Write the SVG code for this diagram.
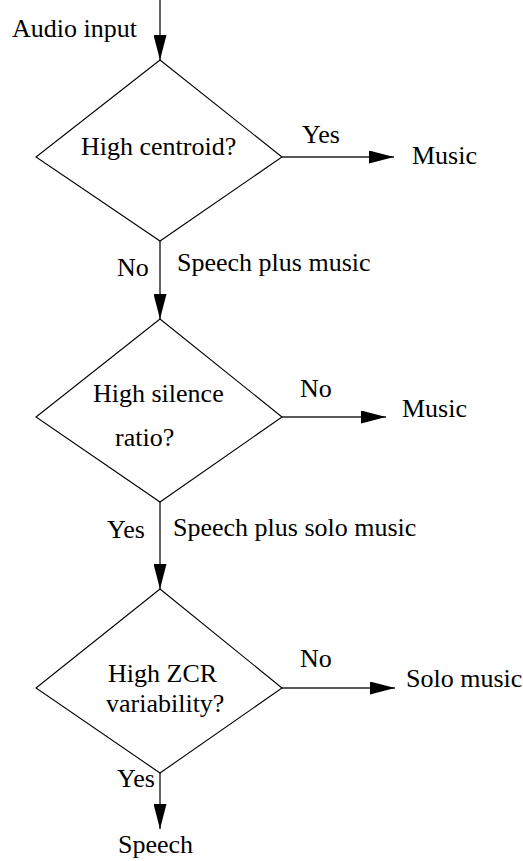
<svg xmlns="http://www.w3.org/2000/svg" width="523" height="861" viewBox="0 0 523 861">
<style>
text{font-family:"Liberation Serif","Times New Roman",serif;font-size:26px;fill:#000}
.d{fill:#fff;stroke:#000;stroke-width:1.1}
.c{stroke:#222;stroke-width:1.4;fill:none}
</style>
<defs>
<marker id="ah" markerUnits="userSpaceOnUse" markerWidth="25" markerHeight="13" refX="25" refY="6.5" orient="auto">
<path d="M0,0 L25,6.5 L0,13 Z" fill="#000"/>
</marker>
</defs>
<rect width="523" height="861" fill="#fff"/>
<g id="connectors">
<line class="c" x1="160" y1="0" x2="160" y2="60" marker-end="url(#ah)"/>
<line class="c" x1="282" y1="157" x2="394" y2="157" marker-end="url(#ah)"/>
<line class="c" x1="160" y1="241" x2="160" y2="319" marker-end="url(#ah)"/>
<line class="c" x1="282" y1="417" x2="386" y2="417" marker-end="url(#ah)"/>
<line class="c" x1="160" y1="502" x2="160" y2="589" marker-end="url(#ah)"/>
<line class="c" x1="282" y1="688" x2="395" y2="688" marker-end="url(#ah)"/>
<line class="c" x1="160" y1="773" x2="160" y2="829" marker-end="url(#ah)"/>
<text x="12" y="37">Audio input</text>
<text x="302" y="143">Yes</text>
<text x="117" y="276">No</text>
<text x="177" y="271">Speech plus music</text>
<text x="300" y="397">No</text>
<text x="107" y="538">Yes</text>
<text x="173" y="536">Speech plus solo music</text>
<text x="300" y="667">No</text>
<text x="117" y="787">Yes</text>
</g>
<g id="d1">
<polygon class="d" points="160,60 282,157 160,241 36,157"/>
<text x="81" y="155">High centroid?</text>
</g>
<g id="music1"><text x="412" y="164">Music</text></g>
<g id="d2">
<polygon class="d" points="160,319 282,417 160,502 36,417"/>
<text x="93" y="402">High silence</text>
<text x="115" y="446">ratio?</text>
</g>
<g id="music2"><text x="402" y="417">Music</text></g>
<g id="d3">
<polygon class="d" points="160,589 282,688 160,773 36,688"/>
<text x="108" y="682">High ZCR</text>
<text x="106" y="712">variability?</text>
</g>
<g id="solo"><text x="406" y="687">Solo music</text></g>
<g id="speech"><text x="118" y="853">Speech</text></g>
</svg>
